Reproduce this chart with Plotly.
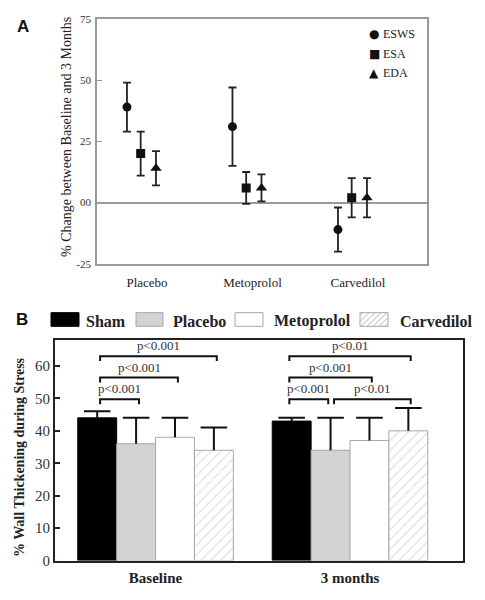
import plotly.graph_objects as go

# ---------------- Panel A data ----------------
a_categories = ["Placebo", "Metoprolol", "Carvedilol"]
a_series = ["ESWS", "ESA", "EDA"]
esws = [39, 31, -11]
esws_err = [10, 16, 9]
esa = [20, 6, 2]
esa_err = [9, 6.5, 8]
eda = [14, 6, 2]
eda_err = [7, 5.5, 8]
a_ytickvals = [-25, 0, 25, 50, 75]
a_yticktext = ["-25", "00", "25", "50", "75"]
a_ytitle = "% Change between Baseline and 3 Months"

# ---------------- Panel B data ----------------
b_groups = ["Baseline", "3 months"]
b_series = ["Sham", "Placebo", "Metoprolol", "Carvedilol"]
sham = [44, 43]
sham_err = [2, 1]
placebo = [36, 34]
placebo_err = [8, 10]
metoprolol = [38, 37]
metoprolol_err = [6, 7]
carvedilol = [34, 40]
carvedilol_err = [7, 7]
b_yticks = [0, 10, 20, 30, 40, 50, 60]
b_ytitle = "% Wall Thickening during Stress"
# significance brackets: (group index, from bar, to bar, level, label)
b_brackets = [
    (0, 0, 1, 49.7, "p<0.001"),
    (0, 0, 2, 56.4, "p<0.001"),
    (0, 0, 3, 63.0, "p<0.001"),
    (1, 0, 1, 49.7, "p<0.001"),
    (1, 1, 3, 49.7, "p<0.01"),
    (1, 0, 2, 56.4, "p<0.001"),
    (1, 0, 3, 63.0, "p<0.01"),
]

# ---------------- styling / layout constants ----------------
# the page body has an 8px default margin, so the figure is sized/offset to fit the window
OFF = 8
W, H = 485 - 2 * OFF, 600 - 2 * OFF
SERIF = "'Times New Roman', 'Liberation Serif', Tinos, 'DejaVu Serif', serif"
SANS = "Arial, 'Liberation Sans', sans-serif"
def px(x):
    return (x - OFF) / W
def py(y):
    return 1 - (y - OFF) / H

a_offsets = {"ESWS": -0.19, "ESA": -0.06, "EDA": 0.085}
a_symbols = {"ESWS": "circle", "ESA": "square", "EDA": "triangle-up"}
a_sizes = {"ESWS": 9, "ESA": 9, "EDA": 10}
a_vals = {"ESWS": (esws, esws_err), "ESA": (esa, esa_err), "EDA": (eda, eda_err)}

fig = go.Figure()

for s in a_series:
    vals, errs = a_vals[s]
    xs = [i + 1 + a_offsets[s] for i in range(len(a_categories))]
    fig.add_trace(go.Scatter(
        x=xs, y=vals, mode="markers", name=s, showlegend=False,
        marker=dict(symbol=a_symbols[s], size=a_sizes[s], color="#111"),
        error_y=dict(type="data", array=errs, visible=True, color="#222",
                     thickness=1.8, width=4),
        xaxis="x", yaxis="y",
    ))

# Panel B bars
b_vals = {"Sham": (sham, sham_err), "Placebo": (placebo, placebo_err),
          "Metoprolol": (metoprolol, metoprolol_err),
          "Carvedilol": (carvedilol, carvedilol_err)}
b_style = {
    "Sham": dict(color="#000000", line=dict(color="#000000", width=1)),
    "Placebo": dict(color="#d3d3d3", line=dict(color="#a8a8a8", width=1)),
    "Metoprolol": dict(color="#ffffff", line=dict(color="#a8a8a8", width=1)),
    "Carvedilol": dict(color="#ffffff", line=dict(color="#a8a8a8", width=1),
                       pattern=dict(shape="/", fgcolor="#b5b5b5", bgcolor="#ffffff",
                                    size=7, solidity=0.15)),
}
bar_w = 0.2
def bar_center(g, i):
    return g + (i - 1.5) * bar_w

for k, s in enumerate(b_series):
    vals, errs = b_vals[s]
    fig.add_trace(go.Bar(
        x=list(range(len(b_groups))), y=vals, name=s, showlegend=False,
        marker=b_style[s], xaxis="x2", yaxis="y2",
    ))
for k, s in enumerate(b_series):
    vals, errs = b_vals[s]
    # one-sided (upward) error bars: stem + cap marker at the top
    fig.add_trace(go.Scatter(
        x=[bar_center(g, k) for g in range(len(b_groups))],
        y=[v + e for v, e in zip(vals, errs)],
        mode="markers", showlegend=False,
        marker=dict(symbol="line-ew", size=19, line=dict(color="#111", width=2)),
        error_y=dict(type="data", array=[0] * len(errs), arrayminus=errs,
                     symmetric=False, visible=True, color="#111",
                     thickness=2, width=0),
        xaxis="x2", yaxis="y2",
    ))

shapes = []
annotations = []

# Panel B brackets
for g, i, j, lvl, lab in b_brackets:
    x0 = bar_center(g, i) + (0.018 if i == 1 else (0.015 if g == 0 else -0.012))
    x1 = bar_center(g, j) + (0.015 if g == 0 else (-0.012 if j == 1 else 0.012))
    d = 1.5
    shapes.append(dict(type="path", xref="x2", yref="y2",
                       path=f"M {x0},{lvl-d} L {x0},{lvl} L {x1},{lvl} L {x1},{lvl-d}",
                       line=dict(color="#111", width=2)))
    annotations.append(dict(x=(x0 + x1) / 2, y=lvl + 0.3, xref="x2", yref="y2",
                            text=lab, showarrow=False, yanchor="bottom", xanchor="center",
                            font=dict(family=SERIF, size=13, color="#333")))

# Panel A manual legend
leg_y = [29, 49, 68]
leg_sym = {"ESWS": "●", "ESA": "■", "EDA": "▲"}
for s, yy in zip(a_series, leg_y):
    annotations.append(dict(x=px(374), y=py(yy), xref="paper", yref="paper",
                            text=leg_sym[s], showarrow=False, xanchor="center",
                            yanchor="middle",
                            font=dict(family="DejaVu Sans", size=12, color="#111")))
    annotations.append(dict(x=px(381), y=py(yy), xref="paper", yref="paper",
                            text=s, showarrow=False, xanchor="left", yanchor="middle",
                            font=dict(family=SERIF, size=12, color="#222")))

# Panel B manual legend
b_leg = [("Sham", 51, 79, 84), ("Placebo", 136, 163, 171),
         ("Metoprolol", 235, 263, 272), ("Carvedilol", 360, 388, 398)]
sy0, sy1 = 314, 328
for s, x0, x1, tx in b_leg:
    st = b_style[s]
    shapes.append(dict(type="rect", xref="paper", yref="paper",
                       x0=px(x0), x1=px(x1), y0=py(sy1), y1=py(sy0),
                       fillcolor=st["color"], line=dict(color=st["line"]["color"], width=1)))
    if s == "Carvedilol":
        wdt, hgt, step = x1 - x0, sy1 - sy0, 6
        c = -hgt + 3
        while c < wdt:
            u0, u1 = max(0, c), min(wdt, hgt + c)
            if u1 > u0:
                shapes.append(dict(type="line", xref="paper", yref="paper",
                                   x0=px(x0 + u0), y0=py(sy1 - (u0 - c)),
                                   x1=px(x0 + u1), y1=py(sy1 - (u1 - c)),
                                   line=dict(color="#b5b5b5", width=1)))
            c += step
    annotations.append(dict(x=px(tx), y=py(323), xref="paper", yref="paper",
                            text=f"<b>{s}</b>", showarrow=False, xanchor="left",
                            yanchor="middle",
                            font=dict(family=SERIF, size=16, color="#222")))

# Axis titles (rotated text)
annotations.append(dict(x=px(67), y=py(134), xref="paper", yref="paper", text=a_ytitle,
                        textangle=-90, showarrow=False, xanchor="center", yanchor="middle",
                        font=dict(family=SERIF, size=14, color="#222")))
annotations.append(dict(x=px(19), y=py(462), xref="paper", yref="paper",
                        text=f"<b>{b_ytitle}</b>",
                        textangle=-90, showarrow=False, xanchor="center", yanchor="middle",
                        font=dict(family=SERIF, size=14, color="#222")))

# Panel letters
annotations.append(dict(x=px(23), y=py(20.5), xref="paper", yref="paper", text="<b>A</b>",
                        showarrow=False, xanchor="center", yanchor="middle",
                        font=dict(family=SANS, size=17, color="#111")))
annotations.append(dict(x=px(22), y=py(320.5), xref="paper", yref="paper", text="<b>B</b>",
                        showarrow=False, xanchor="center", yanchor="middle",
                        font=dict(family=SANS, size=17, color="#111")))

fig.update_layout(
    width=W, height=H, margin=dict(l=0, r=0, t=0, b=0),
    paper_bgcolor="white", plot_bgcolor="white",
    barmode="group", bargap=0.2, bargroupgap=0,
    showlegend=False,
    shapes=shapes, annotations=annotations,
    xaxis=dict(domain=[px(97), px(427)], range=[0.526, 3.654],
               tickvals=[1, 2, 3], ticktext=a_categories, ticks="",
               ticklabelstandoff=6, ticklabeloverflow="allow",
               showline=True, linecolor="#999", linewidth=1.5, mirror=True,
               showgrid=False, zeroline=False,
               tickfont=dict(family=SERIF, size=13, color="#222")),
    yaxis=dict(domain=[py(264), py(13)], range=[-25, 75],
               tickvals=a_ytickvals, ticktext=a_yticktext,
               ticks="inside", ticklen=5, tickcolor="#999", tickwidth=1,
               ticklabeloverflow="allow", ticklabelstandoff=2,
               showline=True, linecolor="#999", linewidth=1.5, mirror=True,
               showgrid=False, zeroline=True, zerolinecolor="#999", zerolinewidth=1.5,
               tickfont=dict(family=SERIF, size=11, color="#333")),
    xaxis2=dict(domain=[px(55), px(463)], range=[-0.517, 1.581], anchor="y2",
                tickvals=[0, 1], ticktext=b_groups, ticks="",
                ticklabelstandoff=2, ticklabeloverflow="allow",
                showline=True, linecolor="#222", linewidth=2, mirror=True,
                showgrid=False, zeroline=False,
                tickfont=dict(family=SERIF, size=15, color="#222", weight="bold")),
    yaxis2=dict(domain=[py(568), py(342)], range=[0, 68], anchor="x2",
                tickvals=b_yticks, ticks="inside", ticklen=5, tickcolor="#222",
                tickwidth=2, showline=True, linecolor="#222", linewidth=2, mirror=True,
                ticklabeloverflow="allow",
                showgrid=False, zeroline=False,
                tickfont=dict(family=SERIF, size=15, color="#333")),
)

fig.write_html("out.html")
